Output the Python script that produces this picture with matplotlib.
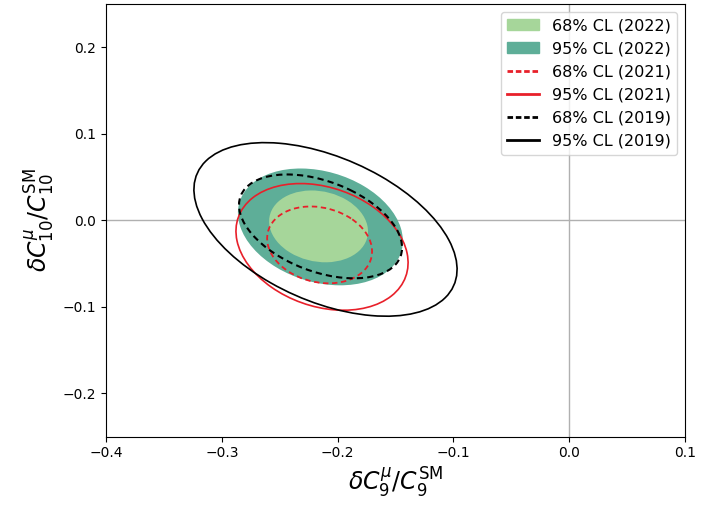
import numpy as np
import matplotlib.pyplot as plt
from matplotlib.patches import Ellipse, Patch
from matplotlib.lines import Line2D

# Fit contours: centre (C9, C10), half-extents along each axis, correlation
labels = ["68% CL (2022)", "95% CL (2022)", "68% CL (2021)",
          "95% CL (2021)", "68% CL (2019)", "95% CL (2019)"]
centre_c9 = [-0.2165, -0.2149, -0.2156, -0.2135, -0.2148, -0.2105]
centre_c10 = [-0.0069, -0.0075, -0.0283, -0.0306, -0.0069, -0.0104]
extent_c9 = [0.0427, 0.0712, 0.0453, 0.0743, 0.0704, 0.1136]
extent_c10 = [0.0415, 0.0675, 0.0444, 0.0732, 0.0600, 0.1003]
corr = [-0.14, -0.24, -0.17, -0.25, -0.41, -0.46]

light_green = "#a6d69a"
dark_green = "#5eae98"


def make_ellipse(i, **kw):
    # covariance-like matrix whose ellipse touches the given extents
    sx, sy, r = extent_c9[i], extent_c10[i], corr[i]
    m = np.array([[sx**2, r*sx*sy], [r*sx*sy, sy**2]])
    vals, vecs = np.linalg.eigh(m)
    angle = np.degrees(np.arctan2(vecs[1, 1], vecs[0, 1]))
    return Ellipse((centre_c9[i], centre_c10[i]), 2*np.sqrt(vals[1]),
                   2*np.sqrt(vals[0]), angle=angle, **kw)


fig = plt.figure(figsize=(7.02, 5.12), dpi=100)
ax = fig.add_axes([0.151, 0.147, 0.825, 0.845])

ax.axhline(0, color="#b0b0b0", lw=1, zorder=0)
ax.axvline(0, color="#b0b0b0", lw=1, zorder=0)

ax.add_patch(make_ellipse(1, facecolor=dark_green, edgecolor="none", zorder=1))
ax.add_patch(make_ellipse(0, facecolor=light_green, edgecolor="none", zorder=2))
ax.add_patch(make_ellipse(2, facecolor="none", edgecolor="#e8202a", lw=1.3,
                          ls=(0, (3, 2)), zorder=3))
ax.add_patch(make_ellipse(3, facecolor="none", edgecolor="#e8202a", lw=1.2, zorder=3))
ax.add_patch(make_ellipse(4, facecolor="none", edgecolor="black", lw=1.5,
                          ls=(0, (3, 2)), zorder=4))
ax.add_patch(make_ellipse(5, facecolor="none", edgecolor="black", lw=1.2, zorder=4))

ax.set_xlim(-0.4, 0.1)
ax.set_ylim(-0.25, 0.25)
ax.set_xticks([-0.4, -0.3, -0.2, -0.1, 0.0, 0.1])
ax.set_yticks([-0.2, -0.1, 0.0, 0.1, 0.2])
ax.tick_params(axis="both", labelsize=10)
ax.set_xlabel(r"$\delta C_9^{\mu}/C_9^{\rm SM}$", fontsize=17)
ax.set_ylabel(r"$\delta C_{10}^{\mu}/C_{10}^{\rm SM}$", fontsize=17)

handles = [
    Patch(facecolor=light_green, edgecolor=light_green),
    Patch(facecolor=dark_green, edgecolor=dark_green),
    Line2D([], [], color="#e8202a", lw=2, ls=(0, (2, 1))),
    Line2D([], [], color="#e8202a", lw=2),
    Line2D([], [], color="black", lw=2, ls=(0, (2, 1))),
    Line2D([], [], color="black", lw=2),
]
ax.legend(handles, labels, loc="upper right", fontsize=11.5)

fig.savefig("out.png", dpi=100)
